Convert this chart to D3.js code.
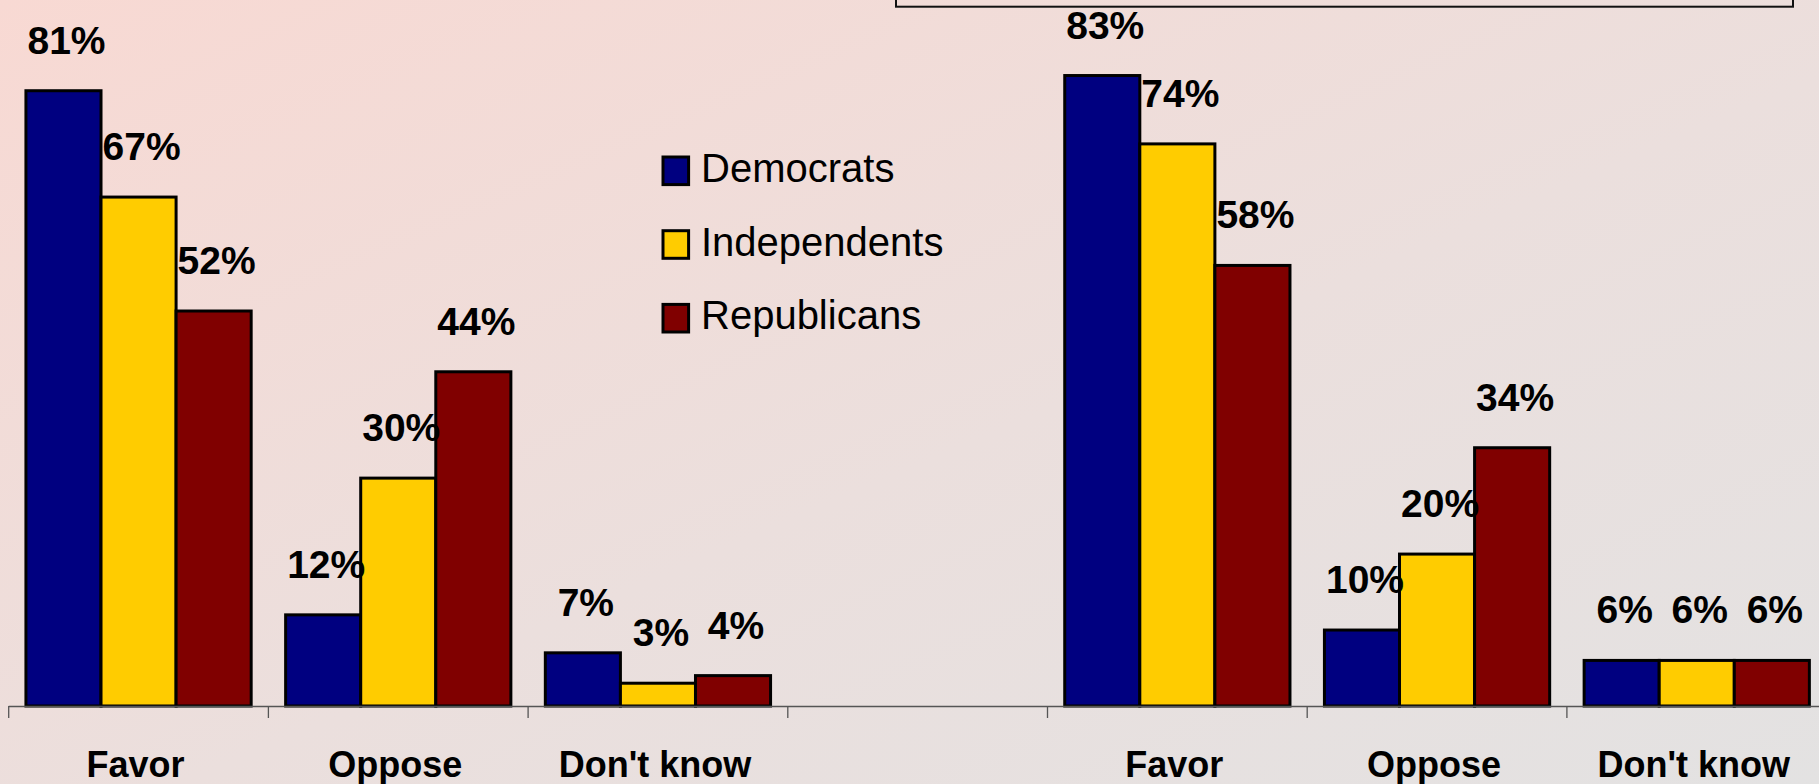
<!DOCTYPE html>
<html>
<head>
<meta charset="utf-8">
<script src="https://cdn.jsdelivr.net/npm/d3@7"></script>
<style>
  html, body { margin: 0; padding: 0; overflow: hidden; }
  svg { display: block; }
</style>
</head>
<body>
<svg id="chart" width="1819" height="784"></svg>
<script>
const categories = ["Favor", "Oppose", "Don't know", "", "Favor", "Oppose", "Don't know"];
const seriesNames = ["Democrats", "Independents", "Republicans"];
const democrats = [81, 12, 7, null, 83, 10, 6];
const independents = [67, 30, 3, null, 74, 20, 6];
const republicans = [52, 44, 4, null, 58, 34, 6];
const seriesColors = ["#000080", "#FFCC00", "#800000"];

const W = 1819, H = 784;
const svg = d3.select("#chart");

// background gradient
const defs = svg.append("defs");
const grad = defs.append("linearGradient").attr("id", "bg")
  .attr("x1", "0%").attr("y1", "0%").attr("x2", "100%").attr("y2", "100%");
grad.append("stop").attr("offset", "0%").attr("stop-color", "#f8d9d3");
grad.append("stop").attr("offset", "55%").attr("stop-color", "#ebdfdd");
grad.append("stop").attr("offset", "100%").attr("stop-color", "#e3e2e2");
svg.append("rect").attr("width", W).attr("height", H).attr("fill", "url(#bg)");

// top box (partially cut off)
svg.append("rect").attr("x", 896).attr("y", -10).attr("width", 897).attr("height", 16.7)
  .attr("fill", "none").attr("stroke", "#111").attr("stroke-width", 2);

const baseY = 706;
const step = 259.7;
const x = d3.scaleBand().domain(d3.range(categories.length)).range([8.7, 8.7 + step * categories.length]).paddingInner(0).paddingOuter(0);
const x1 = d3.scaleBand().domain(seriesNames).range([0, x.bandwidth()]).paddingInner(0).paddingOuter(0.2295);
const y = d3.scaleLinear().domain([0, 90]).range([baseY, baseY - 90 * 7.596]);

const seriesData = [democrats, independents, republicans];
const rows = [];
seriesNames.forEach((s, si) => {
  seriesData[si].forEach((v, ci) => {
    if (v !== null) rows.push({ series: s, si, ci, value: v });
  });
});

// bars
svg.append("g").selectAll("rect").data(rows).join("rect")
  .attr("x", d => x(d.ci) + x1(d.series))
  .attr("y", d => y(d.value))
  .attr("width", x1.bandwidth())
  .attr("height", d => y(0) - y(d.value))
  .attr("fill", d => seriesColors[d.si])
  .attr("stroke", "#000")
  .attr("stroke-width", 3);

// axis line and ticks
const axisG = svg.append("g");
axisG.append("line").attr("x1", x.range()[0]).attr("x2", W).attr("y1", baseY + 0.5).attr("y2", baseY + 0.5)
  .attr("stroke", "#555").attr("stroke-width", 1.3);
axisG.selectAll("line.tick").data(d3.range(categories.length)).join("line")
  .attr("class", "tick")
  .attr("x1", d => x(d)).attr("x2", d => x(d))
  .attr("y1", baseY).attr("y2", baseY + 12)
  .attr("stroke", "#555").attr("stroke-width", 1.3);

// category labels
svg.append("g").selectAll("text").data(categories.map((c, i) => ({ c, i }))).join("text")
  .attr("x", d => x(d.i) + x.bandwidth() / 2 - 3)
  .attr("y", 777)
  .attr("text-anchor", "middle")
  .attr("font-family", "'Liberation Sans', Arial, sans-serif")
  .attr("font-weight", "bold")
  .attr("font-size", 36)
  .attr("fill", "#000")
  .text(d => d.c);

// data labels
svg.append("g").selectAll("text").data(rows).join("text")
  .attr("x", d => x(d.ci) + x1(d.series) + x1.bandwidth() / 2 + 3)
  .attr("y", d => y(d.value) - 37)
  .attr("text-anchor", "middle")
  .attr("font-family", "'Liberation Sans', Arial, sans-serif")
  .attr("font-weight", "bold")
  .attr("font-size", 39)
  .attr("fill", "#000")
  .text(d => d.value + "%");

// legend
const legend = svg.append("g").attr("transform", "translate(663,157)");
const li = legend.selectAll("g").data(seriesNames).join("g")
  .attr("transform", (d, i) => `translate(0,${i * 73.7})`);
li.append("rect").attr("x", 0).attr("y", 0).attr("width", 25.6).attr("height", 27.6)
  .attr("fill", (d, i) => seriesColors[i]).attr("stroke", "#000").attr("stroke-width", 3);
li.append("text").attr("x", 38).attr("y", 25)
  .attr("font-family", "'Liberation Sans', Arial, sans-serif")
  .attr("font-size", 40)
  .attr("fill", "#000")
  .text(d => d);
</script>
</body>
</html>
